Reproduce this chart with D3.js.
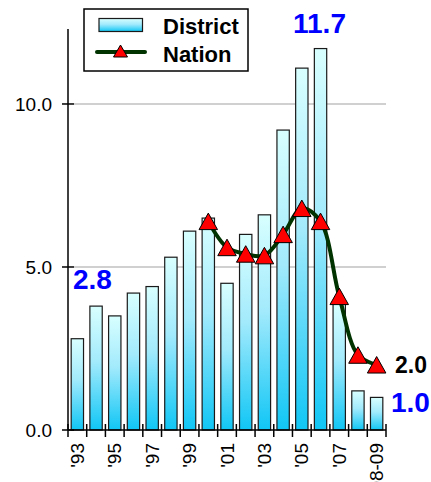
<!DOCTYPE html>
<html>
<head>
<meta charset="utf-8">
<script src="https://cdn.jsdelivr.net/npm/d3@7"></script>
<style>
  html, body { margin: 0; padding: 0; background: #fff; }
  svg { display: block; font-family: Arial, "Liberation Sans", sans-serif; }
</style>
</head>
<body>
<svg id="chart" width="431" height="482"></svg>
<script>
// School years, District rate and Nation rate
const categories = ["'93", "'94", "'95", "'96", "'97", "'98", "'99", "'00", "'01", "'02",
                    "'03", "'04", "'05", "'06", "'07", "'08", "2008-09"];
const districtValues = [2.8, 3.8, 3.5, 4.2, 4.4, 5.3, 6.1, 6.5, 4.5, 6.0,
                        6.6, 9.2, 11.1, 11.7, 3.9, 1.2, 1.0];
const nationValues = [null, null, null, null, null, null, null, 6.4, 5.6, 5.4,
                      5.35, 6.0, 6.8, 6.4, 4.1, 2.3, 2.0];
const xTickLabels = ["'93", "", "'95", "", "'97", "", "'99", "", "'01", "",
                     "'03", "", "'05", "", "'07", "", "2008-09"];
const yTicks = [0, 5, 10];

const svg = d3.select("#chart");

const x = d3.scaleBand()
  .domain(categories)
  .range([68, 386])
  .paddingInner(0.34)
  .paddingOuter(0.17);

const y = d3.scaleLinear().domain([0, 12.3]).range([430, 29]);

// bar fill gradient
const defs = svg.append("defs");
const grad = defs.append("linearGradient")
  .attr("id", "barGrad").attr("x1", 0).attr("y1", 0).attr("x2", 0).attr("y2", 1);
grad.append("stop").attr("offset", "0%").attr("stop-color", "#d8ffff");
grad.append("stop").attr("offset", "45%").attr("stop-color", "#a2eafc");
grad.append("stop").attr("offset", "100%").attr("stop-color", "#10c6f5");

// gridlines
svg.append("g").selectAll("line")
  .data(yTicks.filter(d => d > 0))
  .join("line")
  .attr("x1", 74).attr("x2", 386)
  .attr("y1", d => y(d)).attr("y2", d => y(d))
  .attr("stroke", "#c0c0c0").attr("stroke-width", 1.5);

// District bars
svg.append("g").selectAll("rect")
  .data(districtValues)
  .join("rect")
  .attr("x", (d, i) => x(categories[i]))
  .attr("width", x.bandwidth())
  .attr("y", d => y(d))
  .attr("height", d => y(0) - y(d))
  .attr("fill", "url(#barGrad)")
  .attr("stroke", "#1a1a1a")
  .attr("stroke-width", 1.2);

// y axis
const yAxis = svg.append("g");
yAxis.append("line")
  .attr("x1", 68).attr("x2", 68).attr("y1", y.range()[1]).attr("y2", y(0))
  .attr("stroke", "#000").attr("stroke-width", 1.5);
yAxis.selectAll(".tk").data(yTicks).join("line")
  .attr("x1", 62).attr("x2", 74)
  .attr("y1", d => y(d)).attr("y2", d => y(d))
  .attr("stroke", "#000").attr("stroke-width", 1.5);
yAxis.selectAll("text").data(yTicks).join("text")
  .attr("x", 52).attr("y", d => y(d)).attr("dy", "0.36em")
  .attr("text-anchor", "end")
  .attr("font-size", 19)
  .attr("fill", "#000")
  .text(d => d3.format(".1f")(d));

// x axis
const xAxis = svg.append("g");
xAxis.append("line")
  .attr("x1", 68).attr("x2", 386).attr("y1", y(0)).attr("y2", y(0))
  .attr("stroke", "#000").attr("stroke-width", 1.5);
const step = x.step();
xAxis.selectAll(".tk").data(d3.range(categories.length + 1)).join("line")
  .attr("x1", i => x.range()[0] + i * step)
  .attr("x2", i => x.range()[0] + i * step)
  .attr("y1", y(0) - 6).attr("y2", y(0) + 7)
  .attr("stroke", "#000").attr("stroke-width", 1.5);
xAxis.selectAll("text").data(categories).join("text")
  .attr("transform", (d, i) =>
    `translate(${x(d) + x.bandwidth() / 2 + 6.5},443) rotate(-90)`)
  .attr("text-anchor", "end")
  .attr("font-size", 19)
  .attr("fill", "#000")
  .text((d, i) => xTickLabels[i]);

// Nation line
const nationPts = categories
  .map((c, i) => ({ c, v: nationValues[i] }))
  .filter(d => d.v !== null);
const line = d3.line()
  .x(d => x(d.c) + x.bandwidth() / 2)
  .y(d => y(d.v))
  .curve(d3.curveCatmullRom.alpha(0.5));
svg.append("path")
  .datum(nationPts)
  .attr("d", line)
  .attr("fill", "none")
  .attr("stroke", "#003300")
  .attr("stroke-width", 4)
  .attr("stroke-linejoin", "round");

const tri = (w, h) => `M0,${-h / 2} L${w / 2},${h / 2} L${-w / 2},${h / 2} Z`;
svg.append("g").selectAll("path")
  .data(nationPts)
  .join("path")
  .attr("transform", d => `translate(${x(d.c) + x.bandwidth() / 2},${y(d.v)})`)
  .attr("d", tri(18.5, 16.5))
  .attr("fill", "#ff0000")
  .attr("stroke", "#000")
  .attr("stroke-width", 1);

// value callouts
const first = districtValues[0];
const peak = d3.max(districtValues);
const lastD = districtValues[districtValues.length - 1];
const lastN = nationValues[nationValues.length - 1];
const callouts = [
  { text: first.toFixed(1), x: 73, y: 289, size: 28, color: "#0000ff" },
  { text: peak.toFixed(1), x: 293, y: 32.5, size: 28, color: "#0000ff" },
  { text: lastD.toFixed(1), x: 391, y: 412, size: 28, color: "#0000ff" },
  { text: lastN.toFixed(1), x: 395, y: 373, size: 23, color: "#000000" }
];
svg.append("g").selectAll("text")
  .data(callouts)
  .join("text")
  .attr("x", d => d.x).attr("y", d => d.y)
  .attr("font-size", d => d.size)
  .attr("font-weight", "bold")
  .attr("fill", d => d.color)
  .text(d => d.text);

// legend
const legend = svg.append("g");
legend.append("rect")
  .attr("x", 84).attr("y", 9).attr("width", 164).attr("height", 62)
  .attr("fill", "#fff").attr("stroke", "#000").attr("stroke-width", 1.5);
legend.append("rect")
  .attr("x", 99).attr("y", 18.5).attr("width", 43.5).attr("height", 13)
  .attr("fill", "url(#barGrad)").attr("stroke", "#1a1a1a").attr("stroke-width", 1.2);
legend.append("line")
  .attr("x1", 97).attr("x2", 145).attr("y1", 52).attr("y2", 52)
  .attr("stroke", "#003300").attr("stroke-width", 4).attr("stroke-linecap", "round");
legend.append("path")
  .attr("transform", "translate(120.5,51)")
  .attr("d", tri(14, 12))
  .attr("fill", "#ff0000").attr("stroke", "#000").attr("stroke-width", 1);
legend.append("text").attr("x", 163).attr("y", 33.5)
  .attr("font-size", 22).attr("font-weight", "bold").text("District");
legend.append("text").attr("x", 163).attr("y", 62)
  .attr("font-size", 22).attr("font-weight", "bold").text("Nation");
</script>
</body>
</html>
